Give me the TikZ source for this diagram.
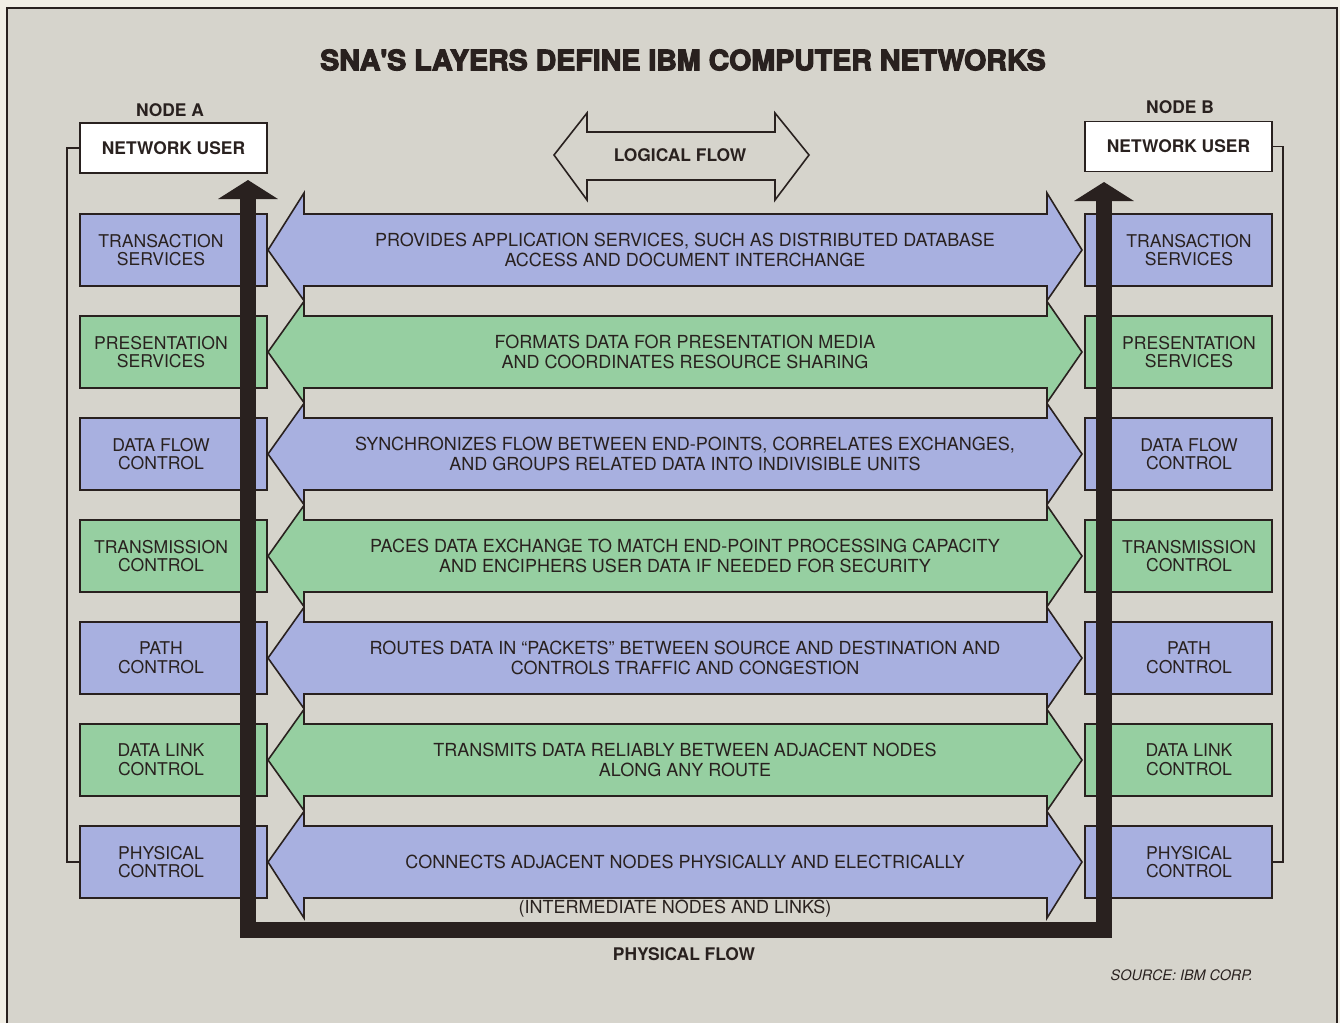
\documentclass[tikz,border=0pt]{standalone}
\usepackage{fontspec}
\setmainfont{TeX Gyre Heros}
\newfontfamily\TitleFont{TeX Gyre Heros}[BoldFeatures={FakeBold=4}]
\usetikzlibrary{arrows.meta,positioning}
\definecolor{PaperClr}{rgb}{0.945,0.935,0.9}
\definecolor{BackClr}{rgb}{0.84,0.83,0.8}
\definecolor{BlueClr}{rgb}{0.66,0.69,0.88}
\definecolor{GreenClr}{rgb}{0.59,0.81,0.63}
\definecolor{InkClr}{rgb}{0.16,0.13,0.12}

\begin{document}
\begin{tikzpicture}[x=0.5pt,y=-0.5pt,
  every node/.style={align=center,text=InkClr,font=\fontsize{9}{9.8}\selectfont},
  layerbox/.style={draw=InkClr,line width=0.8pt,minimum width=93.5pt,minimum height=36pt,inner sep=0pt},
  layertext/.style={font=\fontsize{8.8}{9.4}\selectfont},
  userbox/.style={draw=InkClr,fill=white,line width=0.8pt,minimum width=93.5pt,minimum height=25pt,inner sep=0pt,font=\fontsize{8.7}{9}\selectfont\bfseries},
  hdr/.style={font=\fontsize{8.7}{9}\selectfont\bfseries},
  flowarrow/.style={draw=InkClr,line width=0.8pt,line join=miter},
  physflow/.style={draw=InkClr,line width=7.8pt,{Triangle[width=29.5pt,length=9.5pt]}-{Triangle[width=29.5pt,length=9.5pt]}},
  bracket/.style={draw=InkClr,line width=0.8pt}]

\fill[PaperClr] (0,0) rectangle (1340,1023);
\fill[BackClr] (7,8) rectangle (1337,1023);
\draw[InkClr,line width=1pt] (7,1023) -- (7,8) -- (1337,8) -- (1337,1023);

\node[font=\TitleFont\bfseries\fontsize{14}{14}\selectfont] (Title) at (683,60)
  {\scalebox{1.02}[1]{SNA'S LAYERS DEFINE IBM COMPUTER NETWORKS}};

\node[hdr] (NodeA) at (170,110) {NODE A};
\node[hdr] (NodeB) at (1180,107) {NODE B};
\node[userbox] (UserA) at (173.5,148) {NETWORK USER};
\node[userbox] (UserB) at (1178.5,146.5) {NETWORK USER};

\draw[flowarrow] (554,155) -- (587,113) -- (587,132) -- (775,132) -- (775,113) -- (809,155)
  -- (775,200) -- (775,180) -- (587,180) -- (587,200) -- cycle;
\node[hdr] (Logical) at (680,155) {LOGICAL FLOW};

\foreach \i/\Clr/\Et/\Eb/\Lbl/\Desc in {
  1/BlueClr/21/14.6/{TRANSACTION\\SERVICES}/{PROVIDES APPLICATION SERVICES, SUCH AS DISTRIBUTED DATABASE\\ACCESS AND DOCUMENT INTERCHANGE},
  2/GreenClr/14.6/14.6/{PRESENTATION\\SERVICES}/{FORMATS DATA FOR PRESENTATION MEDIA\\AND COORDINATES RESOURCE SHARING},
  3/BlueClr/14.6/14.6/{DATA FLOW\\CONTROL}/{SYNCHRONIZES FLOW BETWEEN END-POINTS, CORRELATES EXCHANGES,\\AND GROUPS RELATED DATA INTO INDIVISIBLE UNITS},
  4/GreenClr/14.6/14.6/{TRANSMISSION\\CONTROL}/{PACES DATA EXCHANGE TO MATCH END-POINT PROCESSING CAPACITY\\AND ENCIPHERS USER DATA IF NEEDED FOR SECURITY},
  5/BlueClr/14.6/14.6/{PATH\\CONTROL}/{ROUTES DATA IN ``PACKETS'' BETWEEN SOURCE AND DESTINATION AND\\CONTROLS TRAFFIC AND CONGESTION},
  6/GreenClr/14.6/14.6/{DATA LINK\\CONTROL}/{TRANSMITS DATA RELIABLY BETWEEN ADJACENT NODES\\ALONG ANY ROUTE},
  7/BlueClr/14.6/20/{PHYSICAL\\CONTROL}/{CONNECTS ADJACENT NODES PHYSICALLY AND ELECTRICALLY}}{
  \pgfmathsetmacro\Cy{250+102*(\i-1)}
  \draw[flowarrow,fill=\Clr] (268,\Cy) -- (304,\Cy-36-\Et) -- (304,\Cy-36) -- (1047,\Cy-36)
    -- (1047,\Cy-36-\Et) -- (1082,\Cy) -- (1047,\Cy+36+\Eb) -- (1047,\Cy+36)
    -- (304,\Cy+36) -- (304,\Cy+36+\Eb) -- cycle;
  \node (D\i) at (685,\Cy) {\Desc};
  \node[layerbox,fill=\Clr] (L\i) at (173.5,\Cy) {};
  \node[layertext] (LT\i) at (161,\Cy) {\Lbl};
  \node[layerbox,fill=\Clr] (R\i) at (1178.5,\Cy) {};
  \node[layertext] (RT\i) at (1189,\Cy) {\Lbl};
}

\node (Inter) at (675,909) {(INTERMEDIATE NODES AND LINKS)};

\draw[bracket] (UserA.west) -- ++(-12,0) |- (L7.west);
\draw[bracket] (UserB.east) -- ++(10,0) |- (R7.east);

\coordinate (PfA) at (248,180);
\coordinate (PfB) at (1104,182);
\coordinate (PfC) at (676,930);
\draw[physflow] (PfA) |- (PfC) -| (PfB);

\node[hdr] (PhysFlow) at (684,954) {PHYSICAL FLOW};
\node[font=\fontsize{7.2}{8}\selectfont\itshape,anchor=east] (Source) at (1260,975) {SOURCE: IBM CORP.};

\end{tikzpicture}
\end{document}
